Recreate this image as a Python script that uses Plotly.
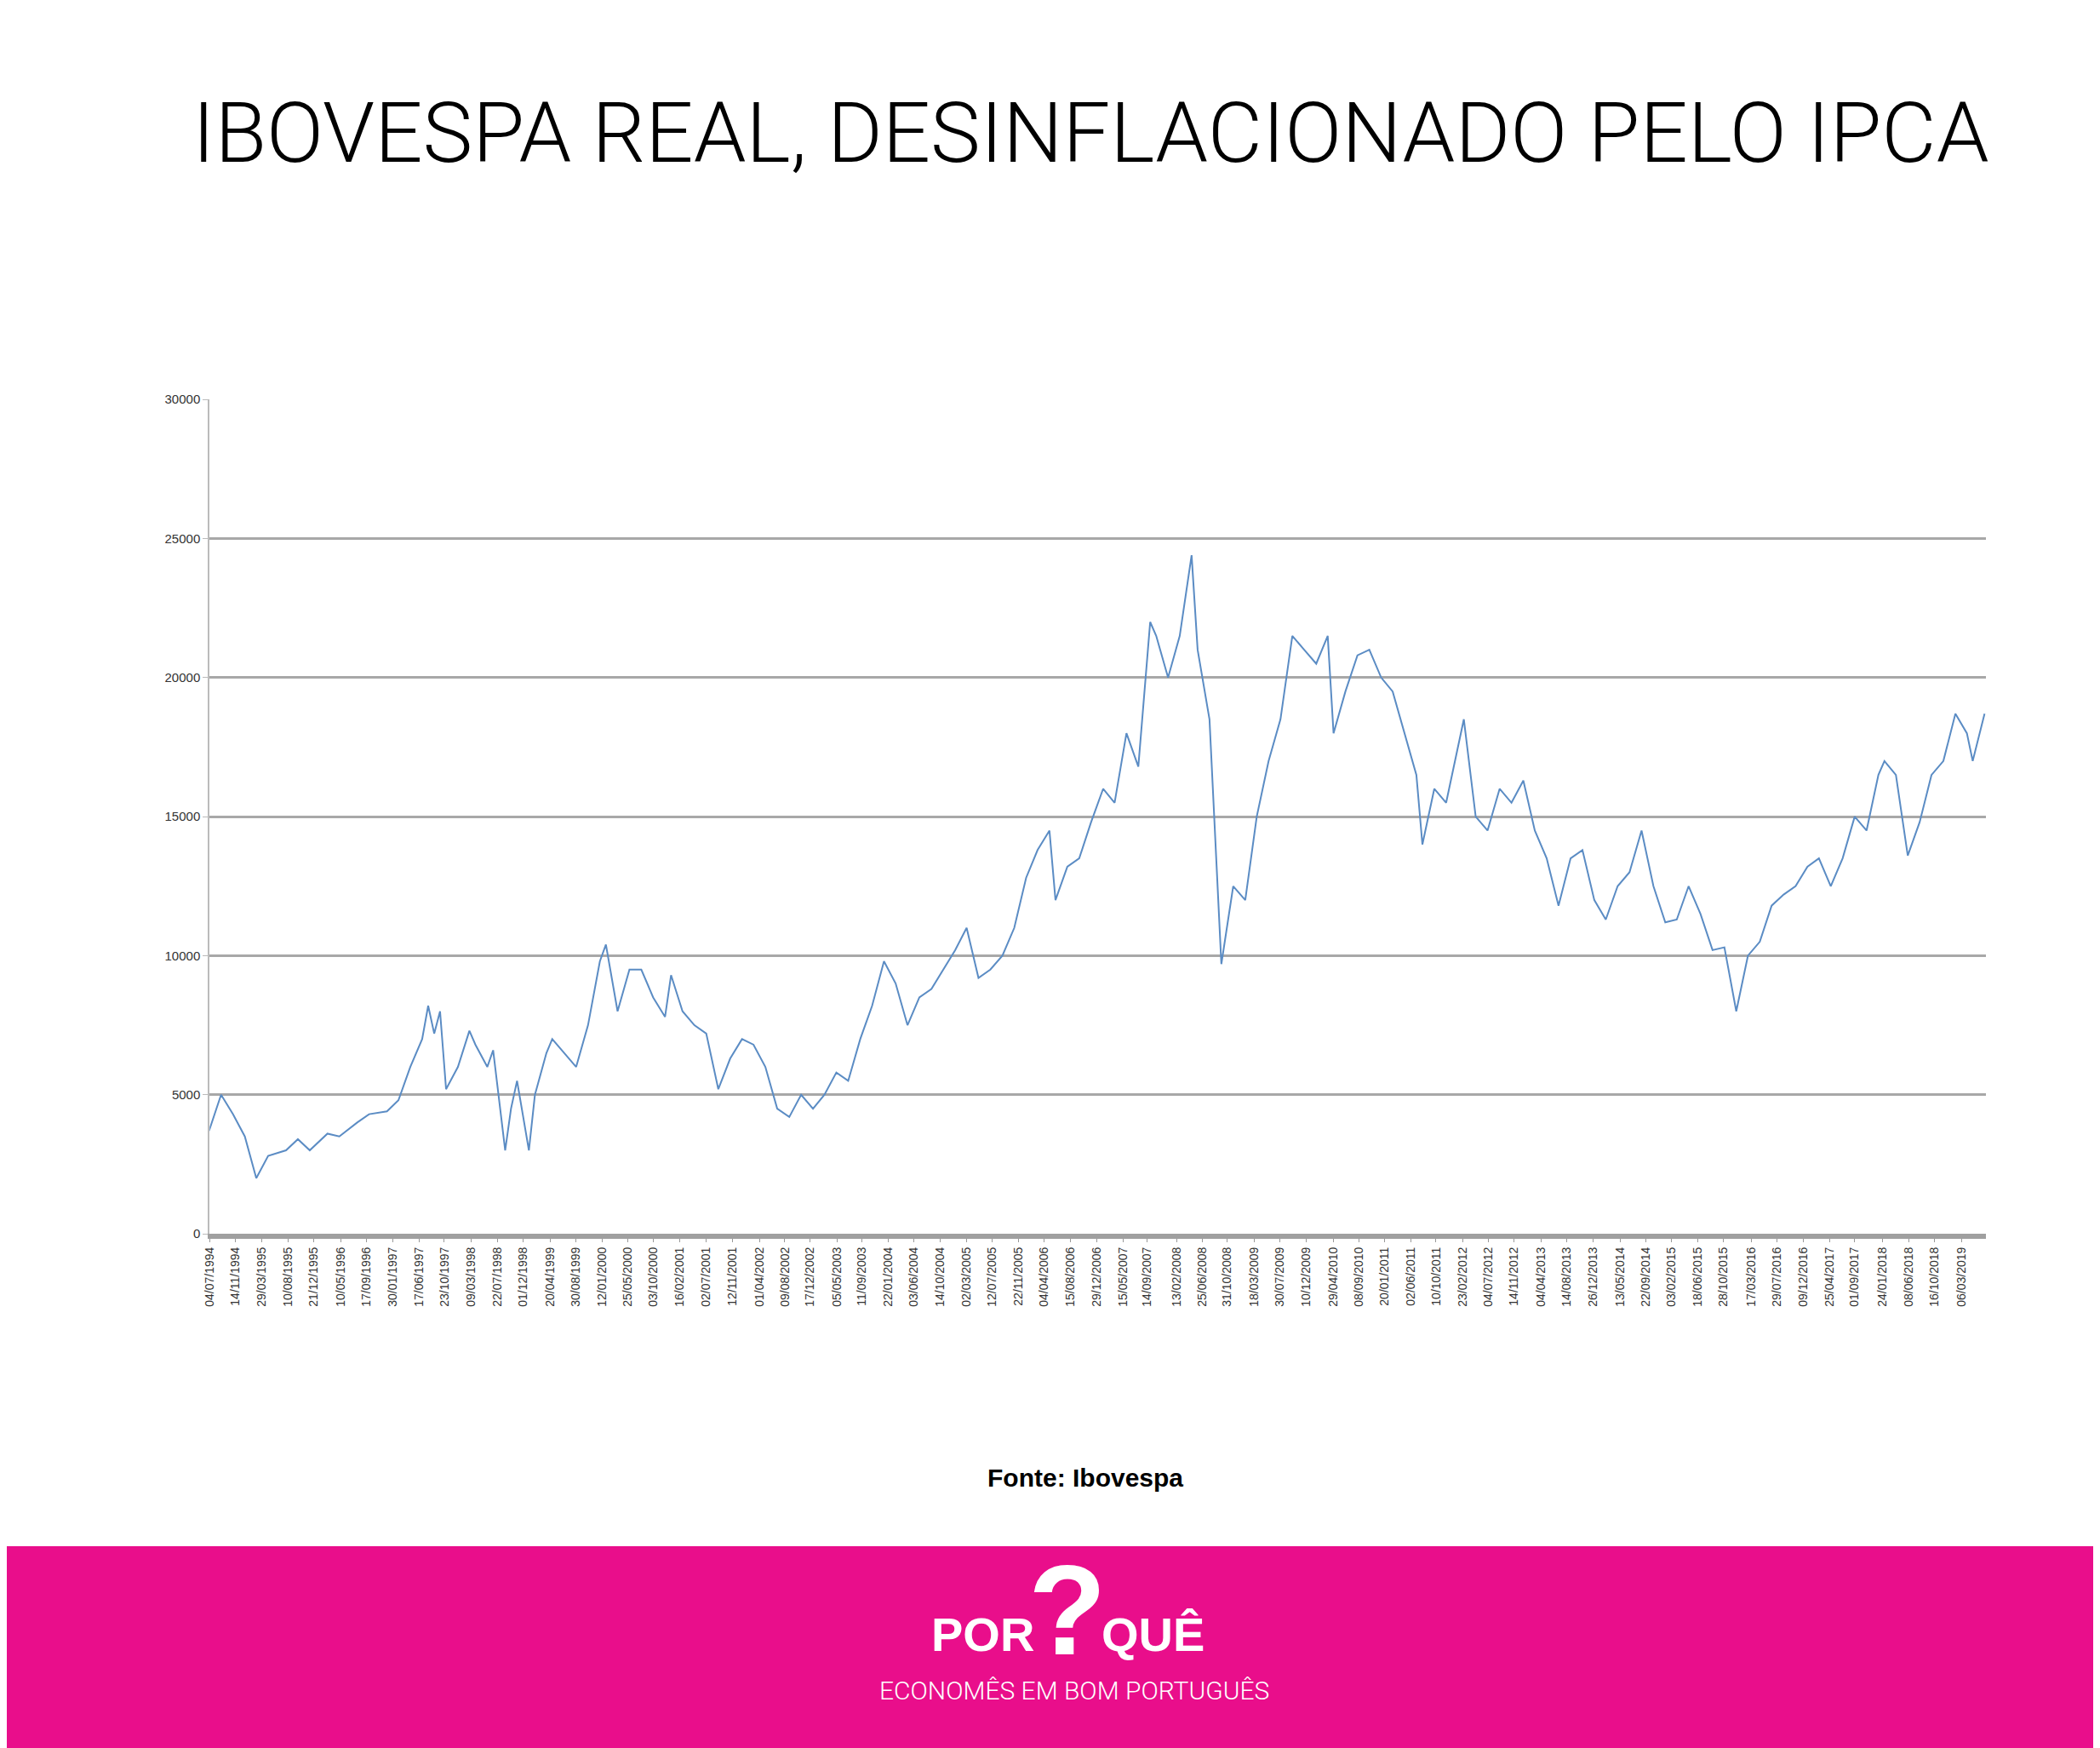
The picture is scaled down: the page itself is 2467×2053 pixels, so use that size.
import plotly.graph_objects as go

# monthly-ish readings of the real Ibovespa (index points)
dates = ["1994-07", "1994-09", "1994-11", "1995-01", "1995-03", "1995-05", "1995-08", "1995-10", "1995-12",
         "1996-03", "1996-05", "1996-08", "1996-10", "1997-01", "1997-03", "1997-05", "1997-07", "1997-08",
         "1997-09", "1997-10", "1997-11", "1998-01", "1998-03", "1998-04", "1998-06", "1998-07", "1998-09",
         "1998-10", "1998-11", "1999-01", "1999-02", "1999-04", "1999-05", "1999-07", "1999-09", "1999-11",
         "2000-01", "2000-02", "2000-04", "2000-06", "2000-08", "2000-10", "2000-12", "2001-01", "2001-03",
         "2001-05", "2001-07", "2001-09", "2001-11", "2002-01", "2002-03", "2002-05", "2002-07", "2002-09",
         "2002-11", "2003-01", "2003-03", "2003-05", "2003-07", "2003-09", "2003-11", "2004-01", "2004-03",
         "2004-05", "2004-07", "2004-09", "2004-11", "2005-01", "2005-03", "2005-05", "2005-07", "2005-09",
         "2005-11", "2006-01", "2006-03", "2006-05", "2006-06", "2006-08", "2006-10", "2006-12", "2007-02",
         "2007-04", "2007-06", "2007-08", "2007-10", "2007-11", "2008-01", "2008-03", "2008-05", "2008-06",
         "2008-08", "2008-10", "2008-12", "2009-02", "2009-04", "2009-06", "2009-08", "2009-10", "2009-12",
         "2010-02", "2010-04", "2010-05", "2010-07", "2010-09", "2010-11", "2011-01", "2011-03", "2011-05",
         "2011-07", "2011-08", "2011-10", "2011-12", "2012-03", "2012-05", "2012-07", "2012-09", "2012-11",
         "2013-01", "2013-03", "2013-05", "2013-07", "2013-09", "2013-11", "2014-01", "2014-03", "2014-05",
         "2014-07", "2014-09", "2014-11", "2015-01", "2015-03", "2015-05", "2015-07", "2015-09", "2015-11",
         "2016-01", "2016-03", "2016-05", "2016-07", "2016-09", "2016-11", "2017-01", "2017-03", "2017-05",
         "2017-07", "2017-09", "2017-11", "2018-01", "2018-02", "2018-04", "2018-06", "2018-08", "2018-10",
         "2018-12", "2019-02", "2019-04", "2019-05", "2019-07"]
values = [3700, 5000, 4300, 3500, 2000, 2800, 3000, 3400, 3000,
          3600, 3500, 4000, 4300, 4400, 4800, 6000, 7000, 8200,
          7200, 8000, 5200, 6000, 7300, 6800, 6000, 6600, 3000,
          4500, 5500, 3000, 5000, 6500, 7000, 6500, 6000, 7500,
          9800, 10400, 8000, 9500, 9500, 8500, 7800, 9300, 8000,
          7500, 7200, 5200, 6300, 7000, 6800, 6000, 4500, 4200,
          5000, 4500, 5000, 5800, 5500, 7000, 8200, 9800, 9000,
          7500, 8500, 8800, 9500, 10200, 11000, 9200, 9500, 10000,
          11000, 12800, 13800, 14500, 12000, 13200, 13500, 14800, 16000,
          15500, 18000, 16800, 22000, 21500, 20000, 21500, 24400, 21000,
          18500, 9700, 12500, 12000, 15000, 17000, 18500, 21500, 21000,
          20500, 21500, 18000, 19500, 20800, 21000, 20000, 19500, 18000,
          16500, 14000, 16000, 15500, 18500, 15000, 14500, 16000, 15500,
          16300, 14500, 13500, 11800, 13500, 13800, 12000, 11300, 12500,
          13000, 14500, 12500, 11200, 11300, 12500, 11500, 10200, 10300,
          8000, 10000, 10500, 11800, 12200, 12500, 13200, 13500, 12500,
          13500, 15000, 14500, 16500, 17000, 16500, 13600, 14800, 16500,
          17000, 18700, 18000, 17000, 18700]

tick_labels = ["04/07/1994", "14/11/1994", "29/03/1995", "10/08/1995", "21/12/1995", "10/05/1996",
               "17/09/1996", "30/01/1997", "17/06/1997", "23/10/1997", "09/03/1998", "22/07/1998",
               "01/12/1998", "20/04/1999", "30/08/1999", "12/01/2000", "25/05/2000", "03/10/2000",
               "16/02/2001", "02/07/2001", "12/11/2001", "01/04/2002", "09/08/2002", "17/12/2002",
               "05/05/2003", "11/09/2003", "22/01/2004", "03/06/2004", "14/10/2004", "02/03/2005",
               "12/07/2005", "22/11/2005", "04/04/2006", "15/08/2006", "29/12/2006", "15/05/2007",
               "14/09/2007", "13/02/2008", "25/06/2008", "31/10/2008", "18/03/2009", "30/07/2009",
               "10/12/2009", "29/04/2010", "08/09/2010", "20/01/2011", "02/06/2011", "10/10/2011",
               "23/02/2012", "04/07/2012", "14/11/2012", "04/04/2013", "14/08/2013", "26/12/2013",
               "13/05/2014", "22/09/2014", "03/02/2015", "18/06/2015", "28/10/2015", "17/03/2016",
               "29/07/2016", "09/12/2016", "25/04/2017", "01/09/2017", "24/01/2018", "08/06/2018",
               "16/10/2018", "06/03/2019"]
tick_vals = ["-".join(reversed(t.split("/"))) for t in tick_labels]

W, H = 2467, 2053
fig = go.Figure(go.Scatter(x=[d + "-01" for d in dates], y=values, mode="lines",
                           line=dict(color="#5b8cc4", width=2)))

fig.update_layout(
    width=W, height=H, margin=dict(l=0, r=0, t=0, b=0),
    paper_bgcolor="white", plot_bgcolor="white", showlegend=False,
    xaxis=dict(domain=[231 / W, 2325 / W], type="date", range=["1994-07-04", "2019-07-10"],
               tickvals=tick_vals, ticktext=tick_labels, tickangle=-90,
               tickfont=dict(family="Liberation Sans", size=14, color="#333"),
               showgrid=False, showline=True, linecolor="#a0a0a0", linewidth=6,
               ticks="outside", ticklen=4, tickcolor="#999"),
    yaxis=dict(domain=[1 - 1444 / H, 1 - 456 / H], range=[0, 30000], tickvals=list(range(0, 30001, 5000)),
               tickformat="d", tickfont=dict(family="Liberation Sans", size=15, color="#333"),
               showgrid=True, gridcolor="#a8a8a8", gridwidth=3, zeroline=False,
               showline=True, linecolor="#bbb", linewidth=2, ticks="outside", ticklen=6, tickcolor="#bbb"),
    shapes=[dict(type="rect", xref="paper", yref="paper", x0=-0.02, x1=1.02, y0=-0.02, y1=1 - 1814 / H,
                 fillcolor="#e90e8b", line_width=0, layer="below")],
    annotations=[
        dict(text="IBOVESPA REAL, DESINFLACIONADO PELO IPCA", x=1270 / W, y=1 - 140 / H, xref="paper", yref="paper",
             showarrow=False, yanchor="middle",
             font=dict(family="Roboto", weight=300, size=99, color="black")),
        dict(text="<b>Fonte: Ibovespa</b>", x=1263 / W, y=1 - 1751 / H, xref="paper", yref="paper",
             showarrow=False, font=dict(family="Liberation Sans", size=30, color="black")),
        dict(text="<b>?</b>", x=1242 / W, y=1 - 1890 / H, xref="paper", yref="paper", showarrow=False,
             yanchor="middle", font=dict(family="Liberation Sans", size=150, color="white")),
        dict(text="<b>POR</b>", x=1205 / W, y=1 - 1952 / H, xref="paper", yref="paper", showarrow=False,
             xanchor="right", font=dict(family="Liberation Sans", size=56, color="white")),
        dict(text="<b>QUÊ</b>", x=1280 / W, y=1 - 1952 / H, xref="paper", yref="paper", showarrow=False,
             xanchor="left", font=dict(family="Liberation Sans", size=56, color="white")),
        dict(text="ECONOMÊS EM BOM PORTUGUÊS", x=1250 / W, y=1 - 2005 / H, xref="paper", yref="paper",
             showarrow=False, font=dict(family="Roboto", weight=300, size=30, color="white")),
    ],
)

fig.write_html("out.html")
